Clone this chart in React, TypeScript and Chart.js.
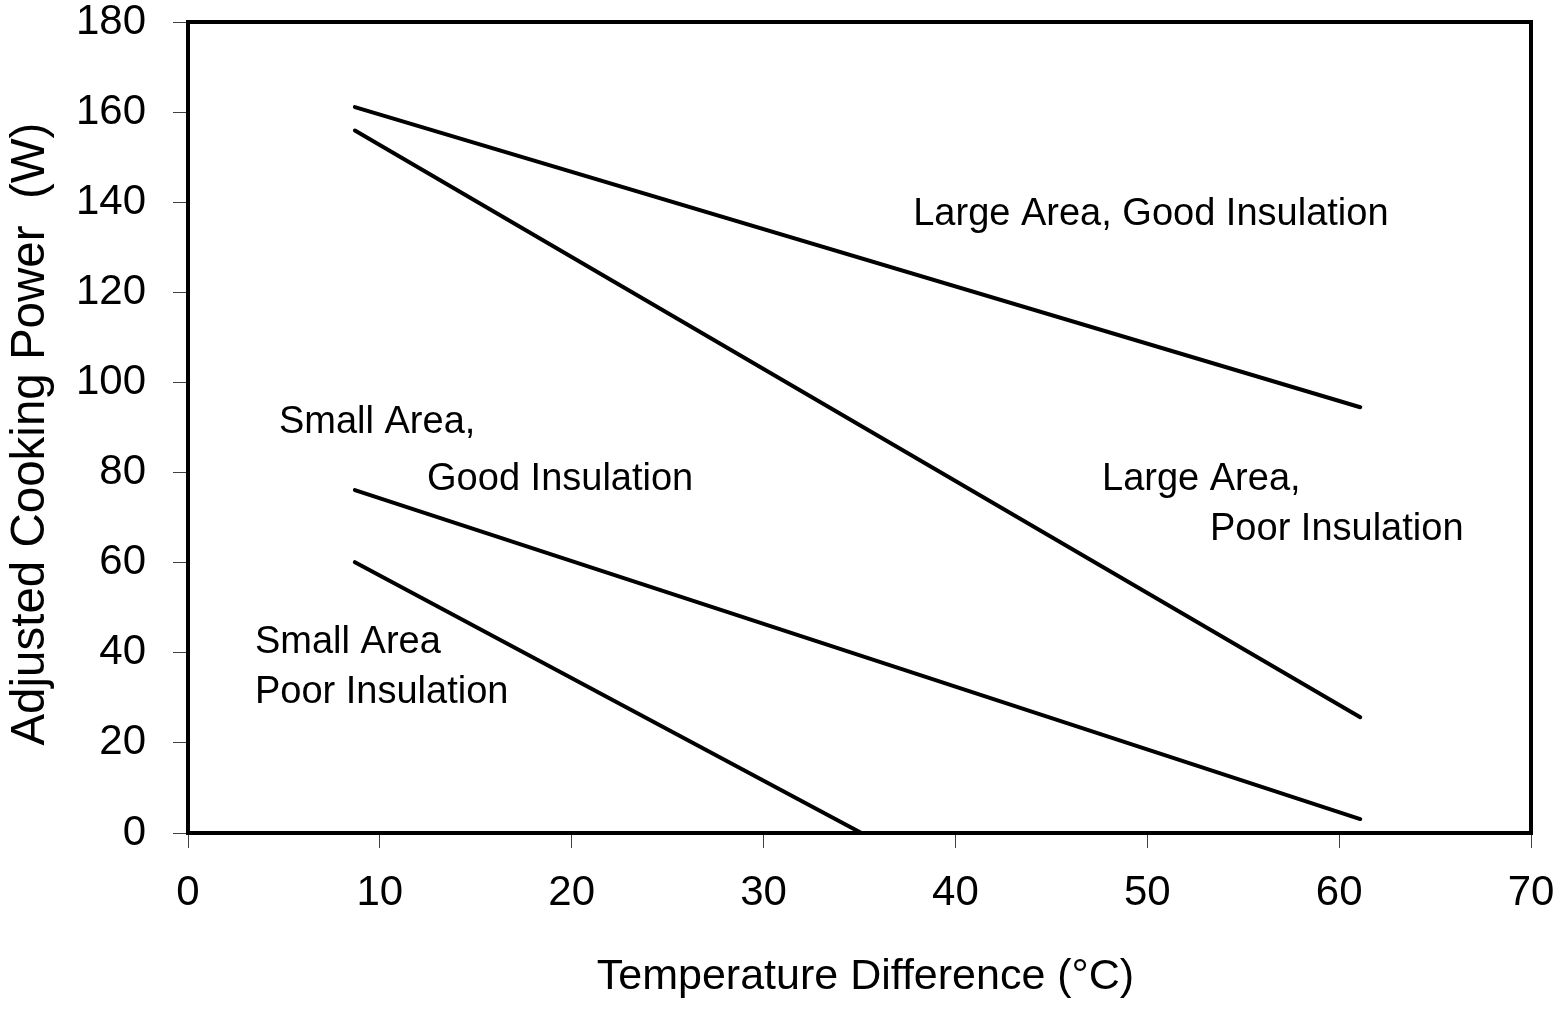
import React, { useEffect, useRef } from "react";
import { Chart, registerables } from "chart.js";

Chart.register(...registerables);

// ---- data ----
const largeGoodTemp = [8.7, 61.1];
const largeGoodPower = [161.1, 94.5];
const largePoorTemp = [8.7, 61.1];
const largePoorPower = [155.9, 25.7];
const smallGoodTemp = [8.7, 61.1];
const smallGoodPower = [76.1, 3.1];
const smallPoorTemp = [8.7, 35.1];
const smallPoorPower = [60.1, 0];

const xTitle = " Temperature Difference (°C)";
const yTitle = "Adjusted Cooking Power  (W) ";

// annotation labels and their anchors (data coordinates: left edge, baseline)
const noteTexts = [
  "Large Area, Good Insulation",
  "Large Area,",
  "Poor Insulation",
  "Small Area,",
  "Good Insulation",
  "Small Area",
  "Poor Insulation",
];
const noteX = [37.8, 47.64, 53.27, 4.74, 12.46, 3.49, 3.49];
const noteY = [134.9, 76.1, 65.0, 88.8, 76.1, 40.0, 28.9];

const FONT = '"Liberation Sans", Arial, Helvetica, sans-serif';

const toPoints = (xs: number[], ys: number[]) => xs.map((x, i) => ({ x, y: ys[i] }));

const framePlugin = {
  id: "frameAndNotes",
  afterDraw(chart: any) {
    const { ctx, chartArea, scales } = chart;
    ctx.save();
    ctx.strokeStyle = "#000";
    ctx.lineWidth = 4;
    ctx.strokeRect(chartArea.left, chartArea.top, chartArea.right - chartArea.left, chartArea.bottom - chartArea.top);
    ctx.fillStyle = "#000";
    ctx.font = `38px ${FONT}`;
    ctx.textAlign = "left";
    ctx.textBaseline = "alphabetic";
    noteTexts.forEach((t, i) => {
      const px = scales.x.getPixelForValue(noteX[i]);
      const py = scales.y.getPixelForValue(noteY[i]);
      ctx.fillText(t, px, py);
    });
    ctx.restore();
  },
};

export default function App() {
  const ref = useRef<HTMLCanvasElement | null>(null);
  useEffect(() => {
    if (!ref.current) return;
    const lineStyle = {
      borderColor: "#000",
      borderWidth: 4,
      borderCapStyle: "round" as const,
      pointRadius: 0,
      showLine: true,
      fill: false,
    };
    const chart = new Chart(ref.current, {
      type: "scatter",
      data: {
        datasets: [
          { label: "Large Area, Good Insulation", data: toPoints(largeGoodTemp, largeGoodPower), ...lineStyle },
          { label: "Large Area, Poor Insulation", data: toPoints(largePoorTemp, largePoorPower), ...lineStyle },
          { label: "Small Area, Good Insulation", data: toPoints(smallGoodTemp, smallGoodPower), ...lineStyle },
          { label: "Small Area, Poor Insulation", data: toPoints(smallPoorTemp, smallPoorPower), ...lineStyle },
        ],
      },
      options: {
        responsive: false,
        animation: false,
        devicePixelRatio: 1,
        layout: { padding: { top: 22, right: 26, left: 0, bottom: 0 } },
        plugins: { legend: { display: false }, tooltip: { enabled: false } },
        scales: {
          x: {
            type: "linear",
            min: 0,
            max: 70,
            border: { display: false },
            grid: { display: true, drawOnChartArea: false, drawTicks: true, tickLength: 15, tickColor: "#404040", tickWidth: 1 },
            ticks: { stepSize: 10, color: "#000", padding: 20, font: { family: FONT, size: 42 }, maxRotation: 0 },
            title: { display: true, text: xTitle, color: "#000", font: { family: FONT, size: 43 }, padding: { top: 0, bottom: 6 } },
            afterFit: (s: any) => {
              s.height = 176;
              s.paddingLeft = 0;
              s.paddingRight = 0;
            },
          },
          y: {
            type: "linear",
            min: 0,
            max: 180,
            border: { display: false },
            grid: { display: true, drawOnChartArea: false, drawTicks: true, tickLength: 15, tickColor: "#404040", tickWidth: 1 },
            ticks: { stepSize: 20, color: "#000", padding: 27, font: { family: FONT, size: 42 } },
            title: { display: true, text: yTitle, color: "#000", font: { family: FONT, size: 47.5 }, padding: { top: 2, bottom: 0 } },
            afterFit: (s: any) => {
              s.width = 188;
              s.paddingTop = 0;
              s.paddingBottom = 0;
            },
          },
        },
      },
      plugins: [framePlugin],
    });
    return () => chart.destroy();
  }, []);
  return (
    <div style={{ position: "absolute", left: 0, top: 0, width: 1557, height: 1009, background: "#fff" }}>
      <canvas ref={ref} width={1557} height={1009} style={{ width: 1557, height: 1009, display: "block" }} />
    </div>
  );
}
